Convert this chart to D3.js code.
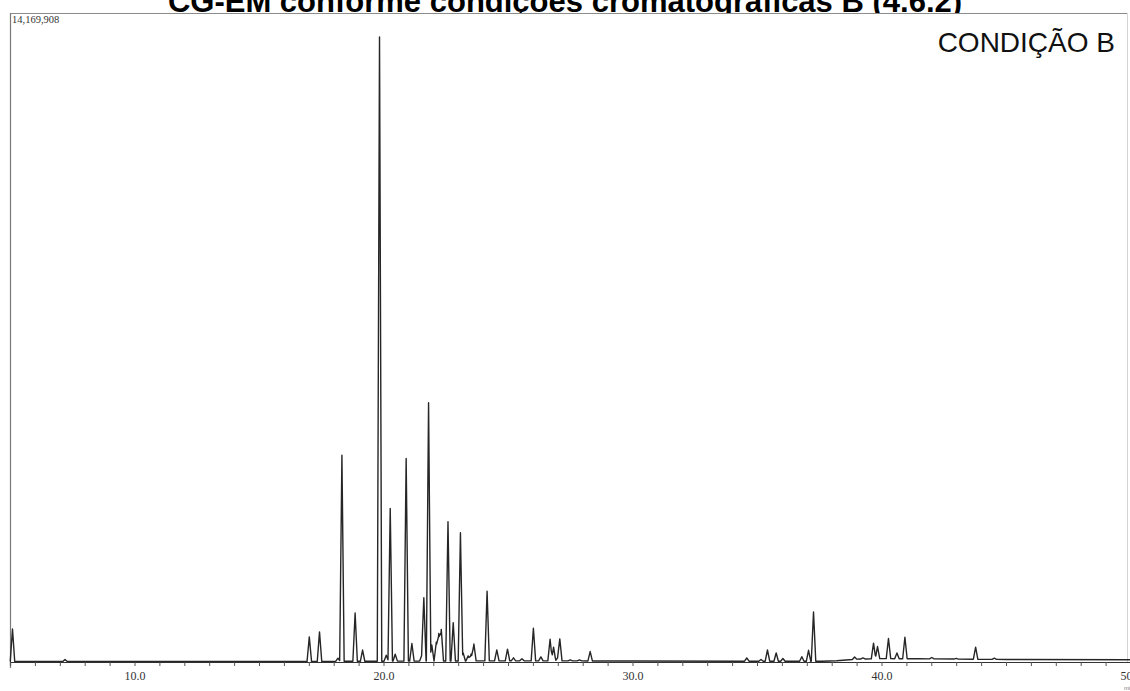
<!DOCTYPE html>
<html>
<head>
<meta charset="utf-8">
<script src="https://cdn.jsdelivr.net/npm/d3@7/dist/d3.min.js"></script>
<style>
  html, body { margin: 0; padding: 0; background: #fff; overflow: hidden; }
  svg { display: block; }
</style>
</head>
<body>
<svg id="chart" width="1130" height="691"></svg>
<script>
// Total ion chromatogram, condition B: retention time (min) vs. intensity (counts)
const fullScale = 14169908;

// Detected peaks: retention time (min) and height above baseline (counts)
const retentionTimes = [
  5.10, 7.21, 17.02, 17.43, 18.17, 18.33, 18.86, 19.16, 19.84, 20.11,
  20.27, 20.47, 20.91, 21.14, 21.54, 21.62, 21.81, 21.94, 22.12, 22.22,
  22.32, 22.59, 22.80, 23.09, 23.20, 23.40, 23.52, 23.63, 24.16, 24.55,
  24.98, 25.22, 25.56, 26.02, 26.32, 26.69, 26.83, 26.99, 27.08, 27.50,
  27.87, 28.30, 34.59, 35.16, 35.42, 35.77, 36.04, 36.80, 37.07, 37.27,
  38.92, 39.25, 39.68, 39.84, 40.28, 40.62, 40.94, 42.02, 43.00, 43.78,
  44.53
];
const peakHeights = [
  710000, 45000, 535000, 645000, 70000, 4500000, 1055000, 245000, 13630000, 130000,
  3335000, 150000, 4425000, 385000, 130000, 1370000, 5640000, 350000, 410000, 600000,
  690000, 3040000, 835000, 2800000, 175000, 110000, 150000, 370000, 1520000, 240000,
  255000, 65000, 45000, 712000, 85000, 472000, 298000, 65000, 480000, 22000,
  22000, 205000, 70000, 38000, 245000, 180000, 60000, 100000, 240000, 1075000,
  50000, 25000, 340000, 265000, 440000, 125000, 470000, 30000, 15000, 265000,
  25000
];

// Baseline drift (counts) at selected retention times
const baselineTimes  = [5.0, 16.0, 25.0, 30.0, 37.6, 38.2, 39.0, 40.0, 41.5, 45.0, 50.0];
const baselineLevels = [11000, 11000, 26000, 22000, 15000, 26000, 62000, 74000, 70000, 55000, 48000];

// Time axis ticks
const minorTicks = d3.range(5, 51, 1);
const majorTicks = [10, 20, 30, 40, 50];
const majorTickLabels = ["10.0", "20.0", "30.0", "40.0", "50.0"];

const titleText = "CG-EM conforme condições cromatográficas B (4.6.2)";
const conditionLabel = "CONDIÇÃO B";
const fullScaleLabel = "14,169,908";
const timeUnitLabel = "min";

// Layout
const width = 1130, height = 691;
const plot = { left: 10, top: 13, right: 1127, bottom: 662 };
const peakHalfWidth = 0.09; // minutes, half of the base width of each peak

const svg = d3.select("#chart");

const x = d3.scaleLinear().domain([5, 50]).range([plot.left, 1130.5]);
const y = d3.scaleLinear().domain([0, fullScale]).range([plot.bottom, plot.top]);

// Title (its lower edge meets the plot frame)
svg.append("text")
  .attr("x", 565)
  .attr("y", 12)
  .attr("text-anchor", "middle")
  .attr("font-family", "'Liberation Sans', Arial, sans-serif")
  .attr("font-weight", "bold")
  .attr("font-size", 31)
  .attr("fill", "#000")
  .text(titleText);

// Plot area background hides anything below the frame's top edge
svg.append("rect")
  .attr("x", plot.left)
  .attr("y", plot.top + 0.5)
  .attr("width", width - plot.left)
  .attr("height", height - plot.top)
  .attr("fill", "#fff");

// Frame
svg.append("line")
  .attr("x1", plot.left).attr("x2", plot.right + 1)
  .attr("y1", plot.top + 0.5).attr("y2", plot.top + 0.5)
  .attr("stroke", "#8c8c8c").attr("stroke-width", 1.2);
svg.append("line")
  .attr("x1", plot.left + 0.5).attr("x2", plot.left + 0.5)
  .attr("y1", plot.top).attr("y2", plot.bottom + 6)
  .attr("stroke", "#7a7a7a").attr("stroke-width", 1.2);
svg.append("line")
  .attr("x1", plot.right + 0.5).attr("x2", plot.right + 0.5)
  .attr("y1", plot.top).attr("y2", plot.bottom)
  .attr("stroke", "#d4d4d4").attr("stroke-width", 1);

// Full-scale intensity label
svg.append("text")
  .attr("x", 12)
  .attr("y", 23)
  .attr("font-family", "'Liberation Serif', 'Times New Roman', serif")
  .attr("font-size", 10.5)
  .attr("fill", "#333")
  .text(fullScaleLabel);

// Condition label
svg.append("text")
  .attr("x", 1115)
  .attr("y", 52)
  .attr("text-anchor", "end")
  .attr("font-family", "'Liberation Sans', Arial, sans-serif")
  .attr("font-size", 28)
  .attr("fill", "#111")
  .text(conditionLabel);

// Time axis: minor ticks every minute, labels every ten minutes
const axis = d3.axisBottom(x)
  .tickValues(minorTicks)
  .tickSize(4)
  .tickFormat(d => {
    const i = majorTicks.indexOf(d);
    return i >= 0 ? majorTickLabels[i] : "";
  });

const axisG = svg.append("g")
  .attr("transform", `translate(0,${plot.bottom})`)
  .call(axis);
axisG.select(".domain").attr("stroke", "#333").attr("stroke-width", 1.2);
axisG.selectAll(".tick line").attr("stroke", "#555");
axisG.selectAll(".tick text")
  .attr("font-family", "'Liberation Serif', 'Times New Roman', serif")
  .attr("font-size", 12)
  .attr("fill", "#333")
  .attr("dy", "0.95em");

svg.append("text")
  .attr("x", 1124)
  .attr("y", 690)
  .attr("font-family", "'Liberation Sans', Arial, sans-serif")
  .attr("font-size", 6)
  .attr("fill", "#777")
  .text(timeUnitLabel);

// Build the trace: baseline plus triangular peaks, evaluated at every breakpoint
const baseline = d3.scaleLinear().domain(baselineTimes).range(baselineLevels).clamp(true);
const peaks = retentionTimes.map((t, i) => ({ t, h: peakHeights[i] }));

let breakpoints = [...baselineTimes];
peaks.forEach(p => { breakpoints.push(p.t - peakHalfWidth, p.t, p.t + peakHalfWidth); });
breakpoints = Array.from(new Set(breakpoints.map(t => Math.max(5, Math.min(50, t)))))
  .sort((a, b) => a - b);

const trace = breakpoints.map(t => {
  let v = baseline(t);
  peaks.forEach(p => {
    const d = Math.abs(t - p.t);
    if (d < peakHalfWidth) v += p.h * (1 - d / peakHalfWidth);
  });
  return { t, v };
});

const line = d3.line()
  .x(d => x(d.t))
  .y(d => y(d.v));

svg.append("path")
  .datum(trace)
  .attr("d", line)
  .attr("fill", "none")
  .attr("stroke", "#262626")
  .attr("stroke-width", 1.4)
  .attr("stroke-linejoin", "round");
</script>
</body>
</html>
